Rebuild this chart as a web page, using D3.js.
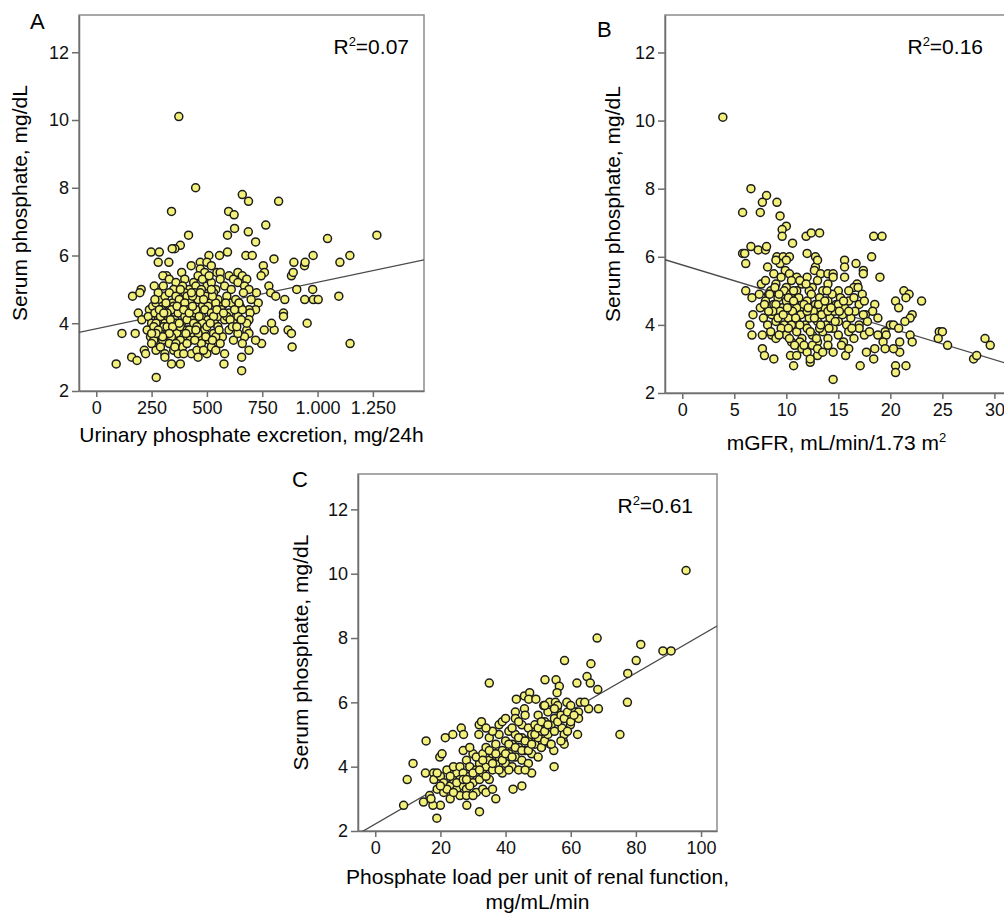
<!DOCTYPE html>
<html lang="en">
<head>
<meta charset="UTF-8">
<script src="https://d3js.org/d3.v7.min.js"></script>
<title>Serum phosphate scatter plots</title>
<style>
    body { margin: 0; background: white; }
    svg { font-family: "Liberation Sans", Arial, sans-serif; }
    .frame { fill: none; stroke: #8c8c8c; stroke-width: 1.5px; }
    .axis path, .axis line { stroke: #6e6e6e; stroke-width: 1.5px; }
    .axis text { font-size: 18px; fill: #111; }
    .dot { fill: #f3f17a; stroke: #1c1c1c; stroke-width: 1.5px; }
    .fit { stroke: #4a4a4a; stroke-width: 1.3px; fill: none; }
</style>
</head>
<body>
<div id="chart"></div>
<script>
// Panel A: urinary phosphate excretion (mg/24h) vs serum phosphate (mg/dL)
const pointsA = [
    [373,10.1],[449,8.0],[340,7.3],[660,7.8],[688,7.6],[824,7.6],[598,7.3],[623,7.2],[625,6.8],[766,6.9],
    [687,6.7],[593,6.6],[417,6.6],[720,6.4],[380,6.3],[355,6.2],[343,6.2],[248,6.1],[285,6.1],[280,5.8],
    [328,5.8],[509,6.0],[557,6.0],[593,6.1],[676,6.0],[705,6.0],[803,5.9],[893,5.8],[941,5.7],[944,5.8],
    [980,6.0],[1045,6.5],[1268,6.6],[1146,6.0],[1101,5.8],[1096,4.8],[1147,3.4],[942,4.7],[981,4.7],[1003,4.7],
    [978,5.0],[953,4.0],[906,5.0],[852,4.7],[882,5.4],[890,5.5],[846,4.3],[846,4.2],[867,3.8],[882,3.7],
    [885,3.3],[804,3.8],[792,4.0],[759,3.8],[747,3.4],[720,3.5],[780,5.1],[788,4.9],[811,4.8],[755,5.7],
    [760,5.5],[745,5.4],[724,4.9],[732,4.6],[720,4.4],[690,4.4],[695,4.3],[690,4.1],[680,3.8],[690,3.7],
    [670,3.6],[660,3.4],[690,3.2],[657,3.0],[657,2.6],[577,2.8],[380,2.8],[340,2.8],[271,2.4],[90,2.8],
    [160,3.0],[184,2.9],[116,3.7],[176,3.7],[217,3.2],[223,3.1],[164,4.8],[203,5.0],[197,4.9],[190,4.3],
    [206,4.1],[262,5.1],[303,5.1],[318,5.4],[301,5.4],[386,5.5],[429,5.7],
    [470,5.8],[500,5.8],[520,5.7],[545,5.5],[560,5.5],[600,5.4],[620,5.3],[640,5.5],[660,5.4],[680,5.3],
    [470,5.6],[490,5.5],
    [330,5.3],[360,5.2],[400,5.3],[420,5.0],[440,5.2],[460,5.4],[480,5.3],[500,5.1],[520,5.2],[540,5.0],
    [560,5.3],[580,5.1],[610,5.0],[640,5.2],[670,5.1],[690,5.0],[350,5.0],[390,5.1],[450,5.1],[475,5.0],
    [510,5.4],[400,4.9],
    [240,4.4],[255,4.5],[270,4.6],[290,4.7],[310,4.8],[330,4.9],[345,4.6],[360,4.8],[375,4.7],[390,4.5],
    [410,4.8],[425,4.6],[445,4.9],[460,4.7],[480,4.5],[495,4.8],[515,4.6],[530,4.9],[550,4.7],[570,4.5],
    [590,4.8],[610,4.6],[630,4.7],[650,4.5],[665,4.9],[700,4.7],[350,4.5],[400,4.6],[435,4.8],[470,4.9],
    [505,4.5],[540,4.6],[300,4.5],[280,4.9],
    [235,4.2],[250,4.0],[265,4.3],[280,4.1],[295,4.4],[310,4.0],[325,4.2],[340,4.4],[355,4.1],[370,4.3],
    [385,4.0],[400,4.2],[415,4.4],[430,4.1],[445,4.3],[460,4.0],[475,4.2],[490,4.4],[505,4.1],[520,4.3],
    [535,4.0],[550,4.2],[565,4.4],[580,4.1],[600,4.3],[620,4.0],[640,4.2],[660,4.4],[680,4.0],[320,4.3],
    [360,4.0],[410,4.1],[450,4.4],[480,4.0],[530,4.2],[590,4.2],[290,4.2],[270,4.0],[440,4.0],
    [230,3.8],[245,3.6],[260,3.9],[275,3.5],[290,3.7],[305,3.9],[320,3.6],[335,3.8],[350,3.5],[365,3.7],
    [380,3.9],[395,3.6],[410,3.8],[425,3.5],[440,3.7],[455,3.9],[470,3.6],[490,3.8],[510,3.5],[530,3.7],
    [550,3.9],[570,3.6],[600,3.8],[620,3.5],[640,3.7],[260,3.5],[300,3.5],[340,3.6],[380,3.5],[420,3.8],
    [460,3.7],[500,3.9],[540,3.6],[280,3.8],[320,3.9],
    [250,3.4],[270,3.2],[290,3.3],[310,3.1],[330,3.4],[350,3.2],[370,3.1],[390,3.3],[410,3.4],[430,3.1],
    [455,3.2],[475,3.4],[500,3.1],[520,3.3],[540,3.2],[560,3.4],[580,3.1],[460,3.0],[310,3.0],[360,3.4],
    [265,4.7],[285,4.4],[305,4.3],[315,4.6],[335,4.1],[345,3.9],[365,4.5],[375,4.0],[395,4.4],[405,3.7],
    [420,4.3],[435,4.5],[450,3.8],[465,4.2],[485,4.7],[495,3.6],[515,4.0],[525,4.8],[545,4.4],[555,3.8],
    [575,4.3],[585,4.6],[605,4.1],[615,3.9],[625,4.4],[635,3.9],[645,4.6],[655,4.1],[330,3.7],[355,3.3],
    [395,3.1],[445,3.5],[485,3.2],[525,3.5],[300,3.6],[270,3.7],[250,3.7],[380,5.0],[430,4.9],[520,5.0]
];

// Panel B: mGFR vs serum phosphate
const pointsB = [
    [3.9,10.1],[6.6,8.0],[8.1,7.8],[7.7,7.6],[9.1,7.6],[5.8,7.3],[7.5,7.3],[9.4,7.2],[10.0,6.9],[9.6,6.8],
    [9.6,6.6],[11.9,6.6],[12.4,6.7],[13.2,6.7],[10.6,6.4],[5.8,6.1],[6.0,6.1],[6.1,5.8],[6.6,6.3],[7.3,6.2],
    [8.0,6.2],[8.1,6.3],[18.4,6.6],[19.2,6.6],[18.2,6.0],[19.0,5.4],[15.6,5.9],[15.6,5.7],[15.6,5.4],[16.7,5.8],
    [17.4,5.6],[17.4,5.5],[16.8,5.2],[16.5,5.1],[12.0,6.1],[12.8,6.0],[12.8,5.7],[9.1,6.0],[9.7,6.0],[10.3,6.0],
    [6.1,5.0],[6.7,4.8],[6.8,4.3],[6.5,4.0],[6.7,3.7],[7.7,3.7],[8.6,3.7],[7.7,3.3],[7.9,3.1],[8.8,3.0],
    [10.4,3.1],[10.7,2.8],[12.3,2.9],[13.0,3.1],[14.5,2.4],[15.7,3.1],[17.1,2.8],[17.7,3.2],[18.4,3.0],[20.5,2.8],
    [20.5,2.6],[21.5,2.8],[20.9,3.2],[20.3,3.3],[20.9,3.5],[28.0,3.0],[28.3,3.1],[29.1,3.6],[29.6,3.4],[24.7,3.8],
    [25.0,3.8],[24.6,3.6],[25.5,3.4],[23.0,4.7],[21.3,5.0],[21.8,4.9],[21.5,4.8],[20.5,4.7],[20.8,4.5],[22.1,4.3],
    [21.9,4.2],[20.0,4.0],[20.3,4.0],[20.8,3.9],[21.4,4.1],[21.9,3.7],[22.1,3.5],[19.5,3.8],[19.6,3.7],[19.3,3.5],
    [19.5,3.3],[18.8,3.7],[18.5,3.3],[18.5,4.6],[18.3,4.4],[18.8,4.2],[17.6,4.3],[17.8,4.1],
    [8.2,5.7],[8.8,5.5],[9.4,5.8],[9.9,5.6],[10.3,5.5],[11.0,5.4],[12.7,5.6],[13.3,5.5],[14.0,5.5],[14.5,5.5],
    [9.0,5.9],[10.0,5.9],[13.0,5.9],
    [7.6,5.2],[8.0,5.3],[8.5,5.0],[9.0,5.2],[9.5,5.4],[10.0,5.1],[10.5,5.3],[11.0,5.0],[11.5,5.2],[12.0,5.4],
    [12.5,5.1],[13.0,5.3],[13.5,5.0],[14.0,5.2],[14.5,5.4],[15.0,5.0],[16.0,5.0],[16.9,5.1],[17.3,4.9],[7.4,4.9],
    [8.3,4.9],[9.8,5.0],[11.3,5.3],[12.2,5.0],
    [7.5,4.5],[8.0,4.7],[8.4,4.9],[8.8,4.6],[9.2,4.8],[9.6,4.5],[10.0,4.7],[10.4,4.9],[10.8,4.6],[11.2,4.8],
    [11.6,4.5],[12.0,4.7],[12.4,4.9],[12.8,4.6],[13.2,4.8],[13.6,4.5],[14.0,4.7],[14.4,4.9],[14.8,4.6],[15.2,4.8],
    [15.6,4.5],[16.0,4.7],[16.5,4.8],[17.0,4.6],[17.5,4.7],[9.0,4.6],[11.0,4.5],[13.0,4.5],[15.0,4.6],[10.2,4.8],
    [7.8,4.2],[8.2,4.0],[8.6,4.3],[9.0,4.1],[9.4,4.4],[9.8,4.0],[10.2,4.2],[10.6,4.4],[11.0,4.1],[11.4,4.3],
    [11.8,4.0],[12.2,4.2],[12.6,4.4],[13.0,4.1],[13.4,4.3],[13.8,4.0],[14.2,4.2],[14.6,4.4],[15.0,4.1],[15.4,4.3],
    [15.8,4.0],[16.2,4.2],[16.6,4.4],[17.0,4.0],[17.4,4.3],[10.5,4.0],[12.0,4.4],[14.0,4.4],[16.0,4.4],[9.2,4.2],
    [8.5,3.8],[9.0,3.6],[9.5,3.9],[10.0,3.7],[10.5,3.5],[11.0,3.8],[11.5,3.6],[12.0,3.9],[12.5,3.7],[13.0,3.5],
    [13.5,3.8],[14.0,3.6],[14.5,3.9],[15.0,3.7],[15.5,3.5],[16.0,3.8],[16.5,3.6],[17.0,3.9],[17.5,3.7],[18.0,3.8],
    [11.3,3.5],[13.2,3.9],[10.2,3.9],
    [10.8,3.4],[11.5,3.3],[12.0,3.2],[12.5,3.4],[13.0,3.3],[13.5,3.2],[14.0,3.4],[14.5,3.2],[15.3,3.4],[16.0,3.3],
    [12.3,3.0],[11.0,3.1],
    [8.7,4.4],[9.3,4.9],[9.7,4.3],[10.1,4.5],[10.7,4.7],[10.9,4.2],[11.3,4.0],[11.7,4.6],[12.1,4.5],[12.3,3.8],
    [12.7,4.2],[13.1,4.6],[13.3,4.0],[13.7,4.7],[14.1,3.9],[14.3,4.5],[14.7,4.1],[15.1,4.4],[15.5,4.7],[16.3,3.9],
    [9.3,3.7],[10.3,3.6],[11.7,3.4],[12.9,3.6],[8.9,5.1],[10.7,5.0],[11.9,5.2],[13.9,5.0],[8.3,4.4],[7.9,4.6]
];

// Panel C: phosphate load per unit of renal function vs serum phosphate
const pointsC = [
    [95.4,10.1],[68.1,8.0],[81.5,7.8],[88.3,7.6],[90.8,7.6],[80.1,7.3],[77.5,6.9],[77.4,6.0],[75.1,5.0],[58.1,7.3],
    [66.2,7.2],[65.0,6.8],[66.0,6.6],[68.3,6.4],[68.5,5.8],[65.5,5.8],[35.0,6.6],[52.1,6.7],[55.5,6.7],[56.5,6.5],
    [55.8,6.3],[61.9,6.6],[62.1,5.0],[54.9,4.0],[45.0,3.4],[42.3,3.3],[32.0,2.6],[28.1,2.8],[18.9,2.4],[20.0,2.8],
    [17.7,2.8],[14.8,2.9],[8.7,2.8],[9.8,3.6],[11.6,4.1],[15.6,4.8],[15.4,3.8],[17.9,3.8],[16.7,3.1],[17.1,3.0],
    [19.8,4.3],[20.5,4.4],[21.5,4.9],[23.8,5.0],[26.4,5.2],[27.1,5.0],[31.9,5.3],[32.6,5.4],[31.8,5.0],[43.3,6.1],
    [45.8,6.2],[47.4,6.3],[47.1,6.1],[49.3,6.1],[43.0,5.7],[45.8,5.8],[51.7,5.9],[53.5,6.0],[55.3,6.0],[55.8,5.8],
    [58.8,6.0],[61.1,5.7],[62.4,5.7],[62.4,5.5],[62.9,6.0],[64.3,6.0],[57.8,5.5],[57.3,5.2],[57.7,4.8],[58.0,4.7],
    [53.7,4.7],[54.8,4.5],[51.0,4.6],[59.9,5.3],
    [18,3.6],[19,3.3],[20,3.7],[21,3.5],[22,3.9],[23,3.4],[24,3.6],[25,3.8],[21,3.2],[23,3.0],
    [24,4.0],[22,3.3],[19,3.8],[25,3.3],[20,3.4],
    [26,3.6],[26,4.0],[27,3.4],[27,3.8],[28,4.2],[28,3.3],[29,3.7],[29,4.0],[30,3.5],[30,4.4],
    [31,3.9],[31,3.2],[32,4.1],[32,3.6],[26,3.1],[28,3.1],[30,3.1],[27,4.5],[29,4.6],[31,4.3],
    [33,3.8],[33,4.4],[34,4.0],[34,4.6],[35,3.6],[35,4.2],[35,4.9],[36,4.4],[36,3.9],[37,4.7],
    [37,4.1],[38,4.3],[38,5.0],[39,3.8],[39,4.5],[40,4.1],[40,4.8],[33,3.3],[34,3.2],[36,3.3],
    [37,3.0],[38,5.3],[36,5.1],[39,5.4],[34,5.2],
    [41,4.4],[41,5.1],[42,4.0],[42,4.7],[43,4.3],[43,5.0],[43,5.5],[44,3.9],[44,4.6],[45,4.2],
    [45,4.9],[45,5.3],[46,4.5],[46,5.6],[47,4.1],[47,4.8],[47,5.2],[48,4.4],[48,5.0],[48,3.8],
    [44,5.4],[42,5.2],[46,3.9],[41,3.9],[40,5.5],
    [49,4.7],[49,5.3],[50,4.9],[50,5.6],[51,5.1],[51,4.6],[52,5.4],[52,4.8],[53,5.0],[53,5.7],
    [54,5.3],[54,4.7],[55,5.5],[55,5.1],[56,5.9],[56,5.4],[50,4.3],[52,5.9],
    [57,5.6],[58,5.0],[58,5.5],[59,5.7],[60,5.4],[61,5.6],[60,5.9],[59,5.1],[57,4.8],
    [23,3.7],[25,3.5],[27,3.6],[29,3.4],[30,3.8],[32,3.9],[33,4.2],[34,3.7],[35,4.5],[36,4.1],
    [37,4.4],[38,3.9],[39,4.2],[40,4.4],[41,4.7],[42,4.3],[43,4.6],[44,4.9],[45,4.5],[46,4.8],
    [47,4.5],[48,4.7],[49,5.0],[50,5.2],[51,5.4],[52,5.1],[53,5.3],[55,5.8],[24,3.2],[28,3.6]
];

const yTicks = [2, 4, 6, 8, 10, 12];
const xTicksA = [0, 250, 500, 750, 1000, 1250];
const xTicksB = [0, 5, 10, 15, 20, 25, 30];
const xTicksC = [0, 20, 40, 60, 80, 100];

// fitted lines: intercept, slope
const fitA = [3.84, 0.00137];
const fitB = [5.76, -0.0928];
const fitC = [2.217, 0.0587];

const r2Labels = ["0.07", "0.16", "0.61"];

const svg = d3.select("#chart").append("svg")
    .attr("width", 1004)
    .attr("height", 913);

const panels = [
    {
        id: "A", data: pointsA, fit: fitA, r2: r2Labels[0],
        left: 79, right: 424, top: 15, bottom: 391,
        xDomain: [-78, 1481], xTicks: xTicksA,
        fmt: d => d >= 1000 ? d3.format(",")(d).replace(",", ".") : d,
        letter: [30, 29], yTitleX: 19, r2x: 409,
        xTitle: ["Urinary phosphate excretion, mg/24h"], xTitleY: 442
    },
    {
        id: "B", data: pointsB, fit: fitB, r2: r2Labels[1],
        left: 665, right: 1010, top: 15, bottom: 393,
        xDomain: [-1.66, 31.5], xTicks: xTicksB,
        fmt: d => d,
        letter: [597, 37], yTitleX: 612, r2x: 983,
        xTitle: ["mGFR, mL/min/1.73 m"], sup: true, xTitleY: 450
    },
    {
        id: "C", data: pointsC, fit: fitC, r2: r2Labels[2],
        left: 358, right: 717, top: 474, bottom: 831,
        xDomain: [-5.3, 104.9], xTicks: xTicksC,
        fmt: d => d,
        letter: [292, 487], yTitleX: 300, r2x: 693,
        xTitle: ["Phosphate load per unit of renal function,", "mg/mL/min"], xTitleY: 884
    }
];

panels.forEach((p, i) => {
    const g = svg.append("g");
    const x = d3.scaleLinear().domain(p.xDomain).range([p.left, p.right]);
    const y = d3.scaleLinear().domain([2, 13.1]).range([p.bottom, p.top]);

    const clipId = "clip" + p.id;
    g.append("clipPath").attr("id", clipId)
        .append("rect")
        .attr("x", p.left).attr("y", p.top)
        .attr("width", p.right - p.left).attr("height", p.bottom - p.top);

    g.append("rect").attr("class", "frame")
        .attr("x", p.left).attr("y", p.top)
        .attr("width", p.right - p.left).attr("height", p.bottom - p.top);

    // axes
    g.append("g").attr("class", "axis")
        .attr("transform", `translate(0,${p.bottom})`)
        .call(d3.axisBottom(x).tickValues(p.xTicks).tickFormat(p.fmt).tickSize(6).tickPadding(4).tickSizeOuter(0));
    g.append("g").attr("class", "axis")
        .attr("transform", `translate(${p.left},0)`)
        .call(d3.axisLeft(y).tickValues(yTicks).tickSize(7).tickPadding(3).tickSizeOuter(0));

    // regression line
    const xs = p.xDomain;
    g.append("line").attr("class", "fit")
        .attr("clip-path", `url(#${clipId})`)
        .attr("x1", x(xs[0])).attr("y1", y(p.fit[0] + p.fit[1] * xs[0]))
        .attr("x2", x(xs[1])).attr("y2", y(p.fit[0] + p.fit[1] * xs[1]));

    // points
    g.selectAll("circle.dot")
        .data(p.data)
        .enter()
        .append("circle")
        .attr("class", "dot")
        .attr("cx", d => x(d[0]))
        .attr("cy", d => y(d[1]))
        .attr("r", 4);

    // R squared
    const rt = g.append("text")
        .attr("x", p.r2x)
        .attr("y", p.top + 39)
        .attr("text-anchor", "end")
        .style("font-size", "21px");
    rt.append("tspan").text("R");
    rt.append("tspan").attr("dy", -8).style("font-size", "13px").text("2");
    rt.append("tspan").attr("dy", 8).text("=" + p.r2);

    // panel letter
    g.append("text")
        .attr("x", p.letter[0]).attr("y", p.letter[1])
        .style("font-size", "22px")
        .text(p.id);

    // y title
    const cy = (p.top + p.bottom) / 2;
    g.append("text")
        .attr("transform", `translate(${p.yTitleX},${cy}) rotate(-90)`)
        .attr("text-anchor", "middle")
        .attr("dominant-baseline", "central")
        .style("font-size", "21px")
        .text("Serum phosphate, mg/dL");

    // x title
    const cx = (p.left + Math.min(p.right, 1004)) / 2 + (i === 1 ? 2 : 0);
    p.xTitle.forEach((t, k) => {
        const tt = g.append("text")
            .attr("x", cx)
            .attr("y", p.xTitleY + k * 25)
            .attr("text-anchor", "middle")
            .style("font-size", "21px");
        tt.append("tspan").text(t);
        if (p.sup) {
            tt.append("tspan").attr("dy", -8).style("font-size", "13px").text("2");
        }
    });
});
</script>
</body>
</html>
